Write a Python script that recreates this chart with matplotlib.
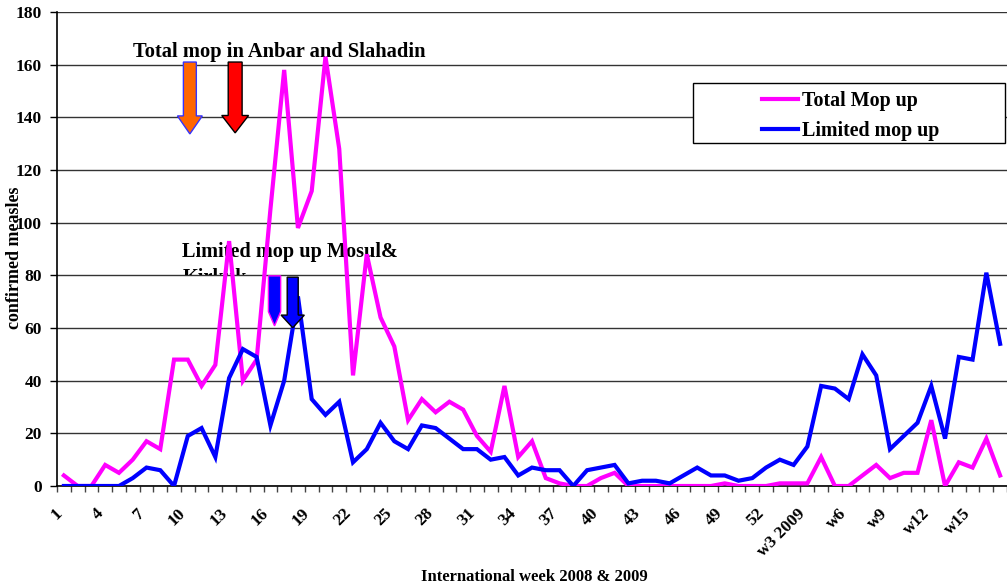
import numpy as np
import matplotlib
matplotlib.use("Agg")
import matplotlib.pyplot as plt
import matplotlib.transforms as mtransforms
from matplotlib.patches import Rectangle

plt.rcParams['font.family'] = ['Liberation Serif', 'DejaVu Serif']
plt.rcParams['font.weight'] = 'bold'
plt.rcParams['axes.labelweight'] = 'bold'

# weeks 2008 (1..52) then 2009 (w1..w17)
weeks = [str(w) for w in range(1, 53)] + ['w1', 'w2', 'w3 2009'] + ['w%d' % w for w in range(4, 18)]

total_mop = [4, 0, 0, 8, 5, 10, 17, 14, 48, 48,
             38, 46, 93, 40, 48, 105, 158, 98, 112, 163,
             128, 42, 88, 64, 53, 25, 33, 28, 32, 29,
             19, 13, 38, 11, 17, 3, 1, 0, 0, 3,
             5, 0, 0, 0, 0, 0, 0, 0, 1, 0,
             0, 0, 1, 1, 1, 11, 0, 0, 4, 8,
             3, 5, 5, 25, 0, 9, 7, 18, 4]
limited_mop = [0, 0, 0, 0, 0, 3, 7, 6, 0, 19,
               22, 11, 41, 52, 49, 23, 40, 72, 33, 27,
               32, 9, 14, 24, 17, 14, 23, 22, 18, 14,
               14, 10, 11, 4, 7, 6, 6, 0, 6, 7,
               8, 1, 2, 2, 1, 4, 7, 4, 4, 2,
               3, 7, 10, 8, 15, 38, 37, 33, 50, 42,
               14, 19, 24, 38, 18, 49, 48, 81, 54]

x = np.arange(1, len(weeks) + 1)

fig = plt.figure(figsize=(10.07, 5.87), dpi=100)
ax = fig.add_axes([57 / 1007, 1 - 486 / 587, 950 / 1007, 474 / 587])

ax.plot(x, total_mop, color='#ff00ff', lw=3, zorder=3, label='Total Mop up', solid_joinstyle='miter')
ax.plot(x, limited_mop, color='#0000ff', lw=3, zorder=3, label='Limited mop up', solid_joinstyle='miter')

ax.set_xlim(0.5, 0.5 + 950 / 13.83)
ax.set_ylim(0, 180)
ax.set_yticks(np.arange(0, 181, 20))
ax.yaxis.grid(True, color='#333333', lw=1)
ax.set_axisbelow(True)
for s in ['top', 'right']:
    ax.spines[s].set_visible(False)
ax.spines['left'].set_linewidth(1.2)
ax.spines['bottom'].set_linewidth(1.2)

ax.tick_params(axis='y', length=5, width=1, pad=6, labelsize=12.5)
ax.set_xticks(x[::3])
ax.set_xticklabels(weeks[::3])
ax.set_xticks(np.arange(0.5, len(weeks) + 1, 1), minor=True)
ax.tick_params(axis='x', which='major', length=0, pad=14, labelsize=12.5)
ax.tick_params(axis='x', which='minor', length=4.5, width=1, color='#444444')
offset = mtransforms.ScaledTranslation(-10 / 100, 0, fig.dpi_scale_trans)
for lab in ax.get_xticklabels():
    lab.set_rotation(45)
    lab.set_rotation_mode('anchor')
    lab.set_ha('right')
    lab.set_va('top')
    lab.set_transform(lab.get_transform() + offset)

ax.set_ylabel('confirmed measles', fontsize=13)
ax.yaxis.set_label_coords(-0.0358, 0.482)
ax.set_xlabel('International week 2008 & 2009', fontsize=12)
ax.xaxis.set_label_coords(0.502, -0.176)

# annotations
ax.text(6.0, 163.0, 'Total mop in Anbar and Slahadin', fontsize=14.8, zorder=1)
t = ax.text(9.61, 77.1, 'Limited mop up Mosul&\nKirkuk', fontsize=14.6, zorder=1,
            va='baseline', linespacing=1.4, clip_on=True)
# second line is cut off at the 80 gridline, as in the original
t.set_clip_box(mtransforms.TransformedBbox(mtransforms.Bbox([[0, 80], [80, 200]]), ax.transData))

ax.arrow(10.15, 161.0, 0, -27.3, width=0.94, head_width=1.81, head_length=6.84,
         length_includes_head=True, fc='#ff6600', ec='#3333ff', lw=1, zorder=4)
ax.arrow(13.44, 161.0, 0, -26.9, width=1.01, head_width=1.95, head_length=6.6,
         length_includes_head=True, fc='#ff0000', ec='black', lw=1, zorder=4)
ax.arrow(16.3, 79.8, 0, -19.0, width=0.89, head_width=0.89, head_length=5.4,
         length_includes_head=True, fc='#0000ff', ec='#ff00ff', lw=1, zorder=4)
ax.arrow(17.62, 79.3, 0, -19.2, width=0.80, head_width=1.69, head_length=4.8,
         length_includes_head=True, fc='#0000ff', ec='black', lw=1, zorder=4)

# legend
box = Rectangle((693 / 1007, 1 - 143 / 587), 312 / 1007, 60 / 587, transform=fig.transFigure,
                fc='white', ec='black', lw=1, zorder=5, clip_on=False)
ax.add_artist(box)
leg = ax.legend(loc='center left', bbox_to_anchor=(752 / 1007, 1 - 116.3 / 587),
                bbox_transform=fig.transFigure, frameon=False, borderpad=0,
                handlelength=1.8, handletextpad=0.2, labelspacing=0.5,
                prop={'size': 14.4, 'weight': 'bold'})
leg.set_zorder(6)

fig.savefig('out.png', dpi=100)
